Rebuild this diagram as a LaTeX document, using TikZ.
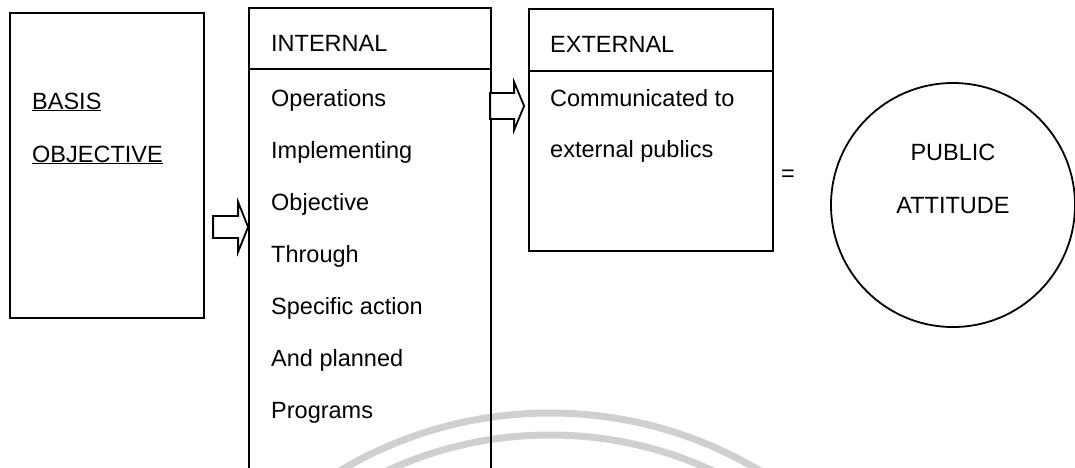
\documentclass[tikz,border=0pt]{standalone}
\usepackage{fontspec}
\setmainfont{Liberation Sans}
\usetikzlibrary{calc}
\definecolor{colmark}{RGB}{208,208,208}
\tikzset{
  box/.style={draw, rectangle, line width=1.8pt, inner sep=0pt},
  rule/.style={line width=1.5pt},
  boxtext/.style={anchor=base west, inner sep=0pt,
    font=\fontsize{23.5}{28}\selectfont},
  roundtext/.style={anchor=base, inner sep=0pt,
    font=\fontsize{23.5}{28}\selectfont},
  arrowline/.style={draw, line width=1.8pt, line join=miter, fill=white},
  wmark/.style={draw=colmark, line width=7pt}
}
% tip, length, half shaft, half head, head length
\newcommand{\hollowarrow}[5]{%
  \begin{scope}[shift={(#1)}]
    \draw[arrowline] (-#2,-#3) -- (-#5,-#3) -- (-#5,-#4) -- (0,0)
      -- (-#5,#4) -- (-#5,#3) -- (-#2,#3) -- cycle;
  \end{scope}}

\begin{document}
\begin{tikzpicture}[x=1pt,y=-1pt]
  \useasboundingbox (0,0) rectangle (1075,467);

  % faint arcs at the bottom
  \draw[wmark] (550,823) circle[radius=410pt];
  \draw[wmark] (550,823) circle[radius=388pt];

  % The boxes
  \node[box, minimum width=194pt, minimum height=305pt] (basis) at (107,165.5) {};
  \node[box, minimum width=242pt, minimum height=472pt] (internal) at (370,244) {};
  \node[box, minimum width=244pt, minimum height=242pt] (external) at (651,130) {};
  \node[circle, draw, line width=1.8pt, minimum size=244pt, inner sep=0pt]
    (attitude) at (953,205) {};

  % header rules
  \draw[rule] ([yshift=-62pt]internal.north west) -- ([yshift=-62pt]internal.north east);
  \draw[rule] ([yshift=-63pt]external.north west) -- ([yshift=-63pt]external.north east);

  % The labels
  \node[boxtext] (basis-1) at (32,109) {\underline{BASIS}};
  \node[boxtext] (basis-2) at (32,162) {\underline{OBJECTIVE}};

  \node[boxtext] (internal-head) at (271,51) {INTERNAL};
  \foreach \txt [count=\i] in {Operations, Implementing, Objective, Through,
      Specific action, And planned, Programs}
    \node[boxtext] (internal-\i) at (271,{54+52*\i}) {\txt};

  \node[boxtext] (external-head) at (550,52) {EXTERNAL};
  \node[boxtext] (external-1) at (550,106) {Communicated to};
  \node[boxtext] (external-2) at (550,157) {external publics};

  \node[roundtext, anchor=center] (equals) at ([xshift=14pt, yshift=-46pt]external.east) {=};
  \node[roundtext] (public) at ([yshift=45pt]attitude.center) {PUBLIC};
  \node[roundtext] (attitude-2) at ([yshift=-8pt]attitude.center) {ATTITUDE};

  % The block arrows
  \coordinate (tipA) at ([yshift=17pt]internal.west);
  \coordinate (tipB) at ([xshift=-4pt, yshift=24pt]external.west);
  \hollowarrow{tipA}{35}{11}{25}{10}
  \hollowarrow{tipB}{34}{13}{24}{10}
\end{tikzpicture}
\end{document}
